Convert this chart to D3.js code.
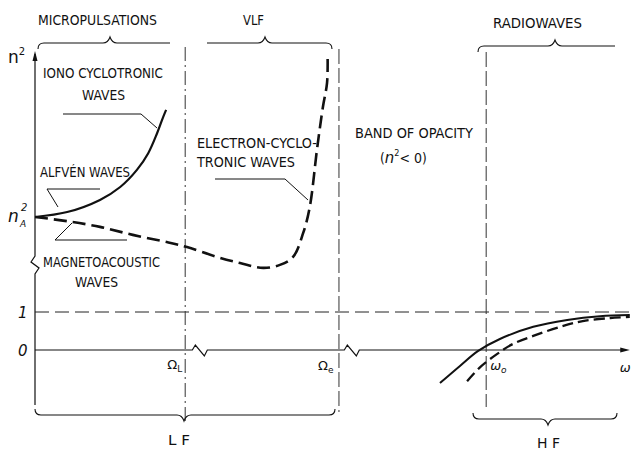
<!DOCTYPE html>
<html>
<head>
<meta charset="utf-8">
<script src="https://cdn.jsdelivr.net/npm/d3@7/dist/d3.min.js"></script>
<style>
  html, body { margin: 0; padding: 0; background: #fff; }
  svg { display: block; }
  .lbl { font-family: "Liberation Sans Narrow", "DejaVu Sans Condensed", "Roboto", "DejaVu Sans", sans-serif; font-size: 13.5px; fill: #111; }
  .sym { font-family: "DejaVu Sans", sans-serif; font-style: italic; fill: #111; }
</style>
</head>
<body>
<svg id="chart" width="631" height="450"></svg>
<script>
// ---------------- DATA (schematic dispersion diagram n^2 vs frequency) ----------------
// x: normalised frequency (0..100), y: n^2 in units of 1
const alfvenWave = [[0,3.50],[5.4,3.63],[10.9,3.95],[14.3,4.29],[17.1,4.74],[19.0,5.18],[20.5,5.71],[21.5,6.13],[22.0,6.32]];
const magnetoacousticWave = [[0,3.50],[5.4,3.39],[10.9,3.24],[16.4,3.03],[22.1,2.84],[25.5,2.71],[30.5,2.45],[34.4,2.29],[38.3,2.16],[41.1,2.24],[43.3,2.45],[45.0,3.08],[46.1,3.76],[47.3,5.26],[48.3,6.39],[49.0,7.03],[49.1,7.68]];
const hfSolid = [[67.95,-0.87],[71.3,-0.42],[74.3,-0.03],[78.0,0.29],[83.6,0.61],[89.3,0.79],[94.8,0.89],[99.8,0.92]];
const hfDashed = [[72.5,-0.82],[74.7,-0.45],[77.5,-0.11],[80.2,0.16],[83.6,0.37],[88.1,0.61],[91.9,0.76],[96.5,0.84],[99.8,0.87]];
const yTickValues = [0, 1];
const yTickLabels = ["0", "1"];
const freqMarkers = [
  {name: "\u03A9", sub: "L", x: 25.2, style: "dashdot"},
  {name: "\u03A9", sub: "e", x: 51.0, style: "dash"},
  {name: "\u03C9", sub: "o", x: 75.7, style: "dash"}
];
const nA2 = 3.5;

// ---------------- SCALES ----------------
const svg = d3.select("#chart");
const x = d3.scaleLinear().domain([0, 100]).range([35, 631]);
const y = d3.scaleLinear().domain([0, 1]).range([350, 312]);
const x0 = x(0), yZero = y(0);

const ink = "#111";
const line = d3.line().x(d => x(d[0])).y(d => y(d[1])).curve(d3.curveCatmullRom.alpha(0.5));

// ---------------- AXES ----------------
const yTop = 54, yBreak = 265;
svg.append("path")
  .attr("d", `M${x0},${yTop} L${x0},${yBreak-9} L${x0-4},${yBreak-3} L${x0+4},${yBreak+3} L${x0},${yBreak+9} L${x0},405`)
  .attr("fill","none").attr("stroke",ink).attr("stroke-width",1.2);
svg.append("path").attr("d", `M${x0},${yTop-3} L${x0-2.5},${yTop+7} L${x0+2.5},${yTop+7} Z`).attr("fill",ink);

const b1 = x(26.4), b2 = x(51.9);
const zig = bx => `L${bx},${yZero} L${bx+3},${yZero-5} L${bx+12},${yZero+6} L${bx+15},${yZero}`;
svg.append("path")
  .attr("d", `M${x0},${yZero} ${zig(b1)} ${zig(b2)} L${x(99)},${yZero}`)
  .attr("fill","none").attr("stroke",ink).attr("stroke-width",1.2);
svg.append("path").attr("d", `M${x(99.8)},${yZero} L${x(98.2)},${yZero-2.5} L${x(98.2)},${yZero+2.5} Z`).attr("fill",ink);

svg.append("line").attr("x1",x0).attr("x2",x(100)).attr("y1",y(1)).attr("y2",y(1))
  .attr("stroke","#222").attr("stroke-width",1).attr("stroke-dasharray","14 6");

svg.selectAll(".ytick").data(yTickValues).join("text")
  .attr("class","sym").attr("x",18).attr("y",d => y(d)+6).attr("font-size",15)
  .text((d,i) => yTickLabels[i]);

const nl = svg.append("text").attr("class","sym").attr("x",8).attr("y",63).attr("font-size",17).style("font-style","normal");
nl.append("tspan").text("n");
nl.append("tspan").attr("dy",-8).attr("font-size",10).text("2");
const na = svg.append("text").attr("class","sym").attr("x",8).attr("y",y(nA2)+5).attr("font-size",17);
na.append("tspan").text("n");
na.append("tspan").attr("x",21).attr("dy",-11).attr("font-size",10).text("2");
na.append("tspan").attr("x",20).attr("dy",16).attr("font-size",9).text("A");

// ---------------- FREQUENCY MARKERS ----------------
const markerTop = [47, 49, 52], markerBot = [421, 412, 407];
freqMarkers.forEach((m, i) => {
  svg.append("line").attr("x1",x(m.x)).attr("x2",x(m.x)).attr("y1",markerTop[i]).attr("y2",markerBot[i])
    .attr("stroke","#333").attr("stroke-width",1)
    .attr("stroke-dasharray", m.style === "dashdot" ? "14 4 2 4" : "15 4");
});
const lblOff = [[-18,369],[-21,370],[4,370]];
freqMarkers.forEach((m, i) => {
  const t = svg.append("text").attr("class","sym").attr("x",x(m.x)+lblOff[i][0]).attr("y",lblOff[i][1])
    .attr("font-size",13).style("font-style", i === 2 ? "italic" : "normal");
  t.append("tspan").text(m.name);
  t.append("tspan").attr("dy",3).attr("font-size",9).text(m.sub);
});
svg.append("text").attr("class","sym").attr("x",x(98.1)).attr("y",372).attr("font-size",13).text("\u03C9");

// ---------------- CURVES ----------------
svg.append("path").attr("d", line(alfvenWave)).attr("fill","none").attr("stroke",ink).attr("stroke-width",2.2);
svg.append("path").attr("d", line(magnetoacousticWave)).attr("fill","none").attr("stroke",ink)
  .attr("stroke-width",2.6).attr("stroke-dasharray","13 6");
svg.append("path").attr("d", line(hfSolid)).attr("fill","none").attr("stroke",ink).attr("stroke-width",2);
svg.append("path").attr("d", line(hfDashed)).attr("fill","none").attr("stroke",ink)
  .attr("stroke-width",2.3).attr("stroke-dasharray","11 5");

// ---------------- BRACES ----------------
function brace(x1, x2, yb, xt, dir, curlL, curlR) {
  const r = 6, h = 6, p = d3.path();
  if (curlL) { p.moveTo(x1, yb - dir*r); p.quadraticCurveTo(x1, yb, x1 + r, yb); }
  else p.moveTo(x1, yb);
  p.lineTo(xt - 7, yb);
  p.quadraticCurveTo(xt - 2, yb, xt, yb + dir*h);
  p.quadraticCurveTo(xt + 2, yb, xt + 7, yb);
  if (curlR) { p.lineTo(x2 - r, yb); p.quadraticCurveTo(x2, yb, x2, yb - dir*r); }
  else p.lineTo(x2, yb);
  svg.append("path").attr("d", p.toString()).attr("fill","none").attr("stroke",ink).attr("stroke-width",1.1);
}
brace(38, 170, 43, 110, -1, true, false);
brace(207, 332, 43, 265, -1, false, true);
brace(478, 615, 46, 555, -1, true, false);
brace(35, 335, 415, 184, 1, true, true);
brace(473, 617, 419, 548, 1, true, true);

// ---------------- LEADER LINES ----------------
const leaders = [
  [[63,114],[141,114],[157,128]],
  [[100,189],[47,189],[58,207]],
  [[72,223],[55,240],[127,240]],
  [[215,179],[285,179],[308,200]]
];
leaders.forEach(l => svg.append("path").attr("d", d3.line()(l)).attr("fill","none").attr("stroke",ink).attr("stroke-width",1));

// ---------------- TEXT LABELS ----------------
const labels = [
  ["MICROPULSATIONS", 38, 25, 119],
  ["VLF", 243, 25, 21],
  ["RADIOWAVES", 493, 28, 89],
  ["IONO CYCLOTRONIC", 43, 78, 120],
  ["WAVES", 82, 100, 43],
  ["ALFVÉN WAVES", 40, 177, 90],
  ["MAGNETOACOUSTIC", 43, 267, 117],
  ["WAVES", 75, 287, 43],
  ["ELECTRON-CYCLO-", 197, 148, 120],
  ["TRONIC WAVES", 197, 167, 98],
  ["BAND OF OPACITY", 355, 138, 118],
  ["L F", 168, 445, 22],
  ["H F", 537, 448, 23]
];
labels.forEach(([s, lx, ly, w]) => {
  svg.append("text").attr("class","lbl").attr("x",lx).attr("y",ly)
    .attr("textLength",w).attr("lengthAdjust","spacingAndGlyphs").text(s);
});
const op = svg.append("text").attr("class","lbl").attr("x",380).attr("y",163).attr("font-size",16);
op.append("tspan").text("(");
op.append("tspan").attr("class","sym").attr("font-size",15).text("n");
op.append("tspan").attr("dy",-7).attr("font-size",9).text("2");
op.append("tspan").attr("dy",7).attr("font-size",14).text("< 0");
op.append("tspan").text(")");
</script>
</body>
</html>
